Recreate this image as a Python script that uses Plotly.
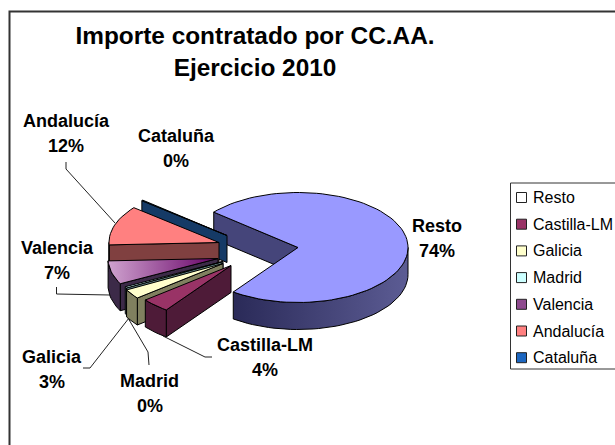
import math
import plotly.graph_objects as go

categories = ["Resto", "Castilla-LM", "Galicia", "Madrid", "Valencia", "Andalucía", "Cataluña"]
shares = [73.9, 4.2, 2.8, 0.4, 6.9, 11.6, 0.2]
title_lines = ["Importe contratado por CC.AA.", "Ejercicio 2010"]

# Styling and placement, kept apart from the data
FONT = "Liberation Sans, Arial, sans-serif"
top_colors = ["#9999FF", "#993366", "#FFFFCC", "#CCFFFF", ("#CFA3CF", "#660066"), "#FF8080", "#0A5FB4"]
wall_colors = [("#2A2A58", "#5C5C94"), "#4E1B38", "#80805F", "#5F8080", "#3C2A48", "#804040", "#153A66"]
radial_colors = ["#45457A", "#4E1B38", "#80805F", "#5F8080", "#3C2A48", "#804040", "#153A66"]
legend_colors = ["#FFFFFF", "#993366", "#FFFFCC", "#CCFFFF", "#8E4A8E", "#FF8080", "#1C66C0"]
explode = [(0, 0), (-67, 18), (-75, 16), (-75, 14), (-80, 11), (-79, -5), (-71, -12)]
label_pos = [(437, 226), (265, 345), (52, 357), (149.5, 381), (57, 248), (66, 121), (176, 136)]
leaders = [
    [(66, 162), (66, 169), (115, 223)],
    [(56.5, 287), (56.5, 294), (110, 295)],
    [(83, 368), (90, 368), (129, 318)],
    [(149, 365), (148, 352), (128, 318)],
    [(212, 357), (205, 357), (163, 336)],
]
CX, CY, RX, RY, DEPTH = 298, 247.5, 110, 55, 27
START_ANGLE = 310
DRAW_ORDER = [0, 6, 5, 4, 3, 2, 1]


def rim(ax, ay, a0, a1):
    n = max(2, int(abs(a1 - a0) / 3) + 2)
    out = []
    for i in range(n):
        a = math.radians(a0 + (a1 - a0) * i / (n - 1))
        out.append((ax + RX * math.sin(a), ay - RY * math.cos(a)))
    return out


def face(points, color):
    xs = [p[0] for p in points] + [points[0][0]]
    ys = [p[1] for p in points] + [points[0][1]]
    kw = {}
    if isinstance(color, tuple):
        kw["fillgradient"] = dict(type="horizontal", colorscale=[[0, color[0]], [1, color[1]]])
    else:
        kw["fillcolor"] = color
    return go.Scatter(x=xs, y=ys, mode="lines", fill="toself", line=dict(color="#000000", width=1),
                      hoverinfo="skip", showlegend=False, **kw)


def down(points):
    return [(x, y + DEPTH) for x, y in points]


total = sum(shares)
edges = [START_ANGLE]
for v in shares:
    edges.append(edges[-1] + v / total * 360)

fig = go.Figure()
for i in DRAW_ORDER:
    ax, ay = CX + explode[i][0], CY + explode[i][1]
    a0, a1 = edges[i], edges[i + 1]
    apex = (ax, ay)
    # radial wall on the slice's first edge, when it faces the viewer
    if math.sin(math.radians(a0)) < 0:
        edge = [apex, rim(ax, ay, a0, a0 + 0.001)[0]]
        fig.add_trace(face(edge + down(edge)[::-1], radial_colors[i]))
    if math.sin(math.radians(a1)) > 0:
        edge = [apex, rim(ax, ay, a1, a1 + 0.001)[0]]
        fig.add_trace(face(edge + down(edge)[::-1], radial_colors[i]))
    # outer wall on the front half of the rim
    for k in (0, 1):
        lo, hi = max(a0, 90 + 360 * k), min(a1, 270 + 360 * k)
        if hi > lo:
            arc = rim(ax, ay, lo, hi)
            fig.add_trace(face(arc + down(arc)[::-1], wall_colors[i]))
    fig.add_trace(face([apex] + rim(ax, ay, a0, a1), top_colors[i]))

for pts in leaders:
    fig.add_trace(go.Scatter(x=[p[0] for p in pts], y=[p[1] for p in pts], mode="lines",
                             line=dict(color="#222222", width=1), hoverinfo="skip", showlegend=False))

annotations = []
for name, v, (x, y) in zip(categories, shares, label_pos):
    for text, yy in ((name, y), (f"{round(v / total * 100)}%", y + 24.5)):
        annotations.append(dict(x=x, y=yy, xref="x", yref="y", text=f"<b>{text}</b>", showarrow=False,
                                xanchor="center", yanchor="middle",
                                font=dict(family=FONT, size=18, color="#000000")))

# Legend box, one row per category
LEG_X, LEG_Y, LEG_GAP = 521.5, 197.5, 26.7
fig.add_trace(go.Scatter(x=[LEG_X] * len(categories), y=[LEG_Y + i * LEG_GAP for i in range(len(categories))],
                         mode="markers", hoverinfo="skip", showlegend=False,
                         marker=dict(symbol="square", size=10, color=legend_colors,
                                     line=dict(color="#222222", width=1))))
for i, name in enumerate(categories):
    annotations.append(dict(x=531, y=LEG_Y + i * LEG_GAP, xref="x", yref="y", text=name, showarrow=False,
                            xanchor="left", yanchor="middle", font=dict(family=FONT, size=16, color="#000000")))

shapes = [
    dict(type="path", path="M 9.5 445 L 9.5 11.5 L 615 11.5", xref="x", yref="y",
         line=dict(color="#333333", width=2)),
    dict(type="path", path="M 615 183 L 510.5 183 L 510.5 369 L 615 369", xref="x", yref="y",
         line=dict(color="#333333", width=1)),
]

fig.update_layout(
    width=615, height=445, margin=dict(l=0, r=0, t=0, b=0), autosize=False,
    paper_bgcolor="#FFFFFF", plot_bgcolor="#FFFFFF", showlegend=False,
    title=dict(text="<b>" + "<br>".join(title_lines) + "</b>", x=255 / 615, xanchor="center",
               y=1 - 44 / 445, yanchor="top", font=dict(family=FONT, size=24.4, color="#000000")),
    xaxis=dict(range=[0, 615], visible=False, fixedrange=True),
    yaxis=dict(range=[445, 0], visible=False, fixedrange=True),
    annotations=annotations, shapes=shapes,
)
fig.write_html("out.html", config={"displayModeBar": False},
               post_script="document.body.style.margin='0';document.body.style.overflow='hidden';")
